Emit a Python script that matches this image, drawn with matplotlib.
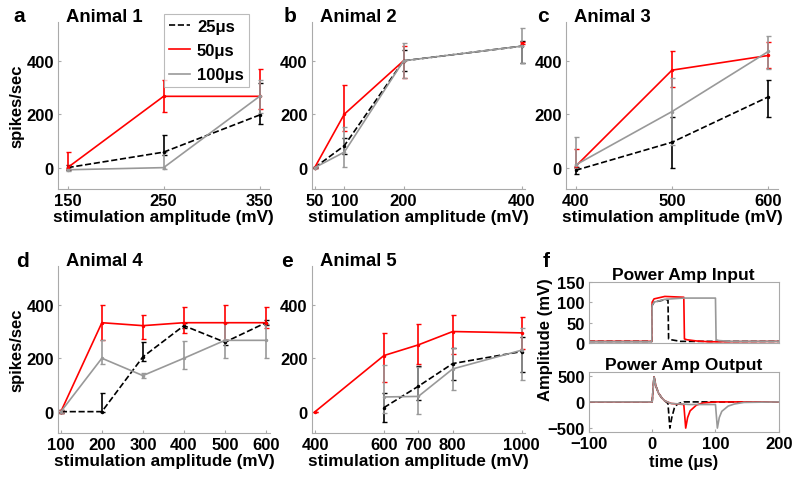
import numpy as np
import matplotlib
matplotlib.use('Agg')
import matplotlib.pyplot as plt
from matplotlib.lines import Line2D

plt.rcParams['font.family'] = ['Liberation Sans', 'DejaVu Sans']
plt.rcParams['font.weight'] = 'bold'
plt.rcParams['axes.labelweight'] = 'bold'
plt.rcParams['axes.titleweight'] = 'bold'

# Panel data: stimulation amplitudes (mV), mean spikes/sec, lower/upper errors
a_x = [150, 250, 350]
a_25 = [0, 58, 197]
a_25_err = [[10, 10, 32], [10, 65, 120]]
a_50 = [0, 267, 267]
a_50_err = [[5, 60, 46], [57, 62, 102]]
a_100 = [-8, 0, 267]
a_100_err = [[5, 5, 63], [5, 60, 63]]

b_x = [50, 100, 200, 400]
b_25 = [0, 82, 400, 455]
b_25_err = [[3, 30, 40, 62], [3, 30, 40, 20]]
b_50 = [0, 200, 400, 467]
b_50_err = [[3, 64, 65, 5], [3, 109, 56, 5]]
b_100 = [0, 58, 400, 455]
b_100_err = [[3, 56, 65, 62], [3, 94, 67, 68]]

c_x = [400, 500, 600]
c_25 = [-10, 95, 265]
c_25_err = [[12, 95, 75], [12, 95, 65]]
c_50 = [5, 365, 420]
c_50_err = [[5, 63, 46], [64, 72, 51]]
c_100 = [10, 210, 435]
c_100_err = [[10, 125, 64], [103, 125, 57]]

d_x = [100, 200, 300, 400, 500, 600]
d_25 = [0, 0, 205, 322, 260, 333]
d_25_err = [[5, 0, 15, 10, 10, 10], [5, 70, 55, 10, 10, 10]]
d_50 = [0, 333, 322, 333, 333, 333]
d_50_err = [[5, 65, 50, 40, 65, 20], [5, 67, 40, 57, 67, 57]]
d_100 = [0, 200, 135, 200, 267, 267]
d_100_err = [[5, 22, 10, 40, 65, 67], [5, 70, 10, 65, 65, 60]]

e_x = [400, 600, 700, 800, 1000]
e_25 = [np.nan, 15, 95, 180, 225]
e_25_err = [[0, 55, 50, 60, 75], [0, 55, 75, 60, 55]]
e_50 = [0, 210, 250, 300, 295]
e_50_err = [[0, 100, 70, 85, 60], [0, 85, 77, 62, 60]]
e_100 = [np.nan, 55, 57, 160, 230]
e_100_err = [[0, 60, 65, 78, 110], [0, 120, 110, 80, 85]]

# Panel f: power amp traces (time in us, amplitude in mV)
in25_t = [-100, -0.5, 0, 3, 20, 25, 26, 30, 45, 200]
in25_v = [4, 4, 92, 100, 106, 106, 10, 8, 4, 4]
in50_t = [-100, -0.5, 0, 3, 20, 50, 51, 55, 70, 90, 200]
in50_v = [4, 4, 100, 108, 114, 112, 10, 8, 5, 3, 4]
in100_t = [-100, -0.5, 0, 3, 20, 50, 100, 101, 105, 125, 200]
in100_v = [3, 3, 92, 100, 107, 110, 110, 8, 6, 4, 4]

out25_t = [-100, 0, 3, 6, 10, 15, 20, 25, 28, 31, 35, 40, 50, 200]
out25_v = [0, 0, 480, 300, 170, 80, 20, -30, -500, -300, -120, -40, 0, 0]
out50_t = [-100, 0, 3, 6, 10, 15, 20, 30, 50, 53, 56, 60, 70, 80, 100, 200]
out50_v = [0, 0, 480, 300, 170, 80, 20, -30, -50, -500, -300, -170, -60, -20, 0, 0]
out100_t = [-100, 0, 3, 6, 10, 15, 20, 30, 60, 100, 103, 106, 110, 120, 130, 145, 200]
out100_v = [0, 0, 480, 300, 170, 80, 20, -30, -50, -50, -500, -300, -180, -80, -40, -10, 0]

GRAY = '#999999'
SPINE = '#aaaaaa'
FS = 12
W, H = 800, 481

fig = plt.figure(figsize=(8, 4.81), dpi=100)


def bold_ticks(ax):
    for lab in ax.get_xticklabels() + ax.get_yticklabels():
        lab.set_fontweight('bold')
        lab.set_fontsize(FS)


def style_axes(ax, xticks, xlim):
    ax.set_xlim(xlim)
    ax.set_ylim(-80, 545)
    ax.set_xticks(xticks)
    ax.set_yticks([0, 200, 400])
    for s in ['top', 'right']:
        ax.spines[s].set_visible(False)
    for s in ['left', 'bottom']:
        ax.spines[s].set_color(SPINE)
        ax.spines[s].set_linewidth(0.8)
    ax.tick_params(direction='in', length=2, color=SPINE, pad=3)
    bold_ticks(ax)
    ax.set_xlabel('stimulation amplitude (mV)', fontsize=12.3, labelpad=0.5)


def draw_series(ax, x, y, err, color, ls):
    ax.errorbar(x, y, yerr=err, color=color, ls=ls, lw=1.2, elinewidth=1.2,
                capsize=1.8, capthick=1.0, marker='.', ms=3)


# letter, title, axes rect, ticks, xlim, letter x (px), letter baseline (px)
panels = [
    ('a', 'Animal 1', [0.0725, 0.605, 0.264, 0.347], a_x, (140, 360), 13, 22.5),
    ('b', 'Animal 2', [0.3896, 0.605, 0.2666, 0.347], b_x, (45, 405), 284, 22.5),
    ('c', 'Animal 3', [0.7075, 0.605, 0.265, 0.347], c_x, (390, 610), 537, 22.5),
    ('d', 'Animal 4', [0.0725, 0.0977, 0.265, 0.347], d_x, (93, 610), 16, 267),
    ('e', 'Animal 5', [0.3896, 0.0977, 0.2666, 0.347], e_x, (390, 1010), 281, 267),
]
series = {
    'a': (a_25, a_25_err, a_50, a_50_err, a_100, a_100_err),
    'b': (b_25, b_25_err, b_50, b_50_err, b_100, b_100_err),
    'c': (c_25, c_25_err, c_50, c_50_err, c_100, c_100_err),
    'd': (d_25, d_25_err, d_50, d_50_err, d_100, d_100_err),
    'e': (e_25, e_25_err, e_50, e_50_err, e_100, e_100_err),
}

for letter, title, rect, x, xlim, lx, ly in panels:
    ax = fig.add_axes(rect)
    y25, e25, y50, e50, y100, e100 = series[letter]
    draw_series(ax, x, y25, e25, 'black', '--')
    if letter == 'b':
        # red trace only joined up to 200 mV, lone point at 400 mV
        draw_series(ax, x[:3], y50[:3], [e50[0][:3], e50[1][:3]], 'red', '-')
        draw_series(ax, x[3:], y50[3:], [e50[0][3:], e50[1][3:]], 'red', 'none')
    else:
        draw_series(ax, x, y50, e50, 'red', '-')
    draw_series(ax, x, y100, e100, GRAY, '-')
    style_axes(ax, x, xlim)
    ax.text(0.04, 0.985, title, transform=ax.transAxes, fontsize=13.3,
            fontweight='bold', va='bottom', ha='left')
    if letter in ('a', 'd'):
        ax.set_ylabel('spikes/sec', fontsize=FS, labelpad=1)
    if letter == 'a':
        handles = [Line2D([], [], color='black', ls='--', lw=1.2),
                   Line2D([], [], color='red', lw=1.2),
                   Line2D([], [], color=GRAY, lw=1.2)]
        leg = ax.legend(handles, ['25\u03bcs', '50\u03bcs', '100\u03bcs'],
                        loc='upper right', bbox_to_anchor=(0.903, 1.048),
                        borderaxespad=0, prop={'size': FS, 'weight': 'bold'},
                        handlelength=1.3, handletextpad=0.4, borderpad=0.3,
                        labelspacing=0.55, frameon=True, fancybox=False)
        leg.get_frame().set_edgecolor(SPINE)
        leg.get_frame().set_linewidth(0.8)
    fig.text(lx / W, 1 - ly / H, letter, fontsize=15, fontweight='bold',
             va='baseline', ha='left')

# Panel f
ax_in = fig.add_axes([0.736, 0.2848, 0.2375, 0.1274])
ax_in.plot(in25_t, in25_v, color='black', ls='--', lw=1.2)
ax_in.plot(in50_t, in50_v, color='red', lw=1.2)
ax_in.plot(in100_t, in100_v, color=GRAY, lw=1.2)
ax_in.set_xlim(-100, 200)
ax_in.set_ylim(0, 150)
ax_in.set_xticks([])
ax_in.set_yticks([0, 50, 100, 150])
ax_in.set_title('Power Amp Input', fontsize=12.5, fontweight='bold', pad=1)

ax_out = fig.add_axes([0.736, 0.0992, 0.2375, 0.1247])
ax_out.plot(out25_t, out25_v, color='black', ls='--', lw=1.2)
ax_out.plot(out50_t, out50_v, color='red', lw=1.2)
ax_out.plot(out100_t, out100_v, color=GRAY, lw=1.2)
ax_out.set_xlim(-100, 200)
ax_out.set_ylim(-580, 565)
ax_out.set_xticks([-100, 0, 100, 200])
ax_out.set_yticks([-500, 0, 500])
ax_out.set_title('Power Amp Output', fontsize=12.5, fontweight='bold', pad=1)
ax_out.set_xlabel('time (\u03bcs)', fontsize=FS, labelpad=1.5)

for ax in (ax_in, ax_out):
    for s in ax.spines.values():
        s.set_color(SPINE)
        s.set_linewidth(0.8)
    ax.tick_params(direction='in', length=2, color=SPINE, pad=3)
    bold_ticks(ax)

fig.text(0.682, 1 - 340 / H, 'Amplitude (mV)', rotation=90, fontsize=FS,
         fontweight='bold', va='center', ha='center')
fig.text(543 / W, 1 - 267 / H, 'f', fontsize=15, fontweight='bold',
         va='baseline', ha='left')

fig.savefig('out.png', dpi=100)
